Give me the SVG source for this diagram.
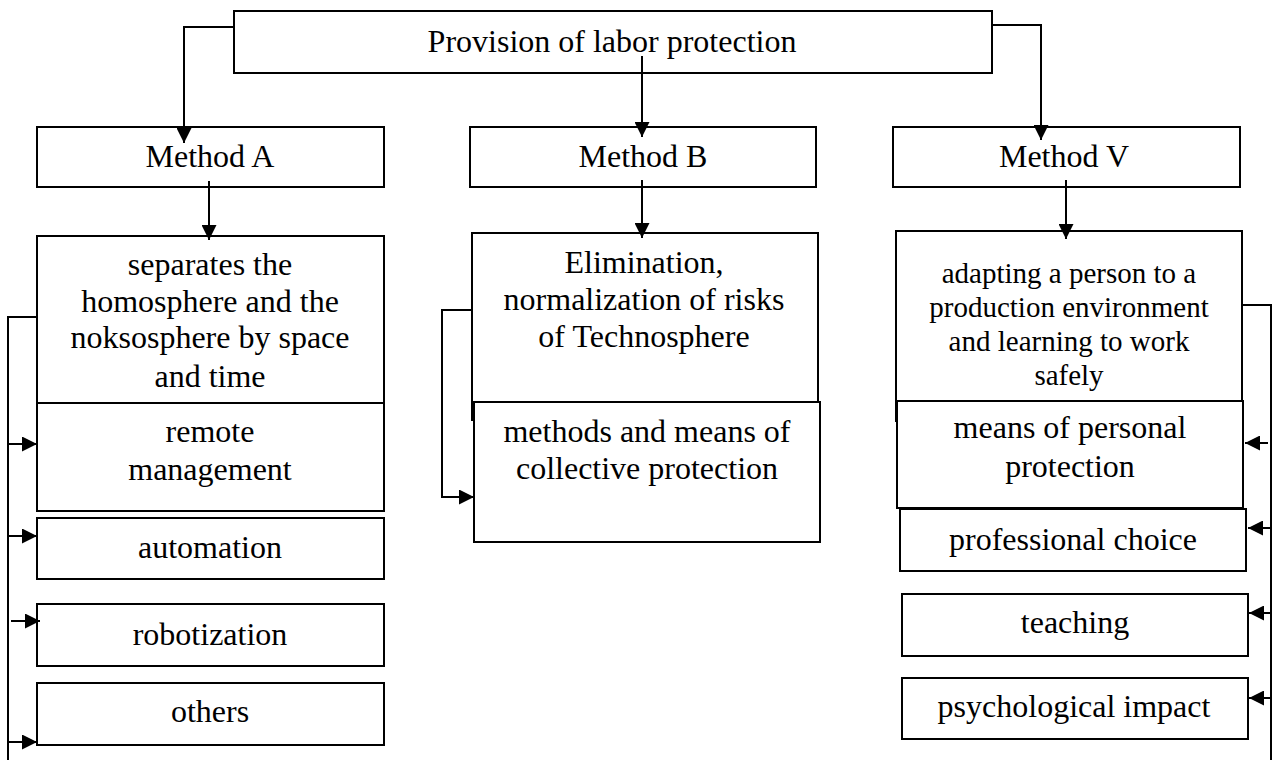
<svg xmlns="http://www.w3.org/2000/svg" width="1274" height="760" viewBox="0 0 1274 760">
<defs>
<style>
.box{fill:#fff;stroke:#000;stroke-width:2}
.t{font-family:"Liberation Serif","Times New Roman",serif;font-size:32px;fill:#000;text-anchor:middle}
.ts{font-size:29px}
.c{fill:none;stroke:#000;stroke-width:2}
</style>
<marker id="ah" markerUnits="userSpaceOnUse" markerWidth="15" markerHeight="15" refX="15" refY="7.5" orient="auto" viewBox="0 0 15 15">
<path d="M0,0 L15,7.5 L0,15 z" fill="#000"/>
</marker>
</defs>
<rect width="1274" height="760" fill="#fff"/>
<g id="root">
<rect class="box" x="234" y="11" width="758" height="62"/>
<text class="t" x="612" y="52">Provision of labor protection</text>
</g>
<g id="methodA">
<rect class="box" x="37" y="127" width="347" height="60"/>
<text class="t" x="210" y="167">Method A</text>
</g>
<g id="methodB">
<rect class="box" x="470" y="127" width="346" height="60"/>
<text class="t" x="643" y="167">Method B</text>
</g>
<g id="methodV">
<rect class="box" x="893" y="127" width="347" height="60"/>
<text class="t" x="1064" y="167">Method V</text>
</g>
<g id="descA">
<rect class="box" x="37" y="236" width="347" height="167"/>
<text class="t" x="210" y="275">separates the</text>
<text class="t" x="210" y="312">homosphere and the</text>
<text class="t" x="210" y="348">noksosphere by space</text>
<text class="t" x="210" y="387">and time</text>
</g>
<g id="remote">
<rect class="box" x="37" y="403" width="347" height="108"/>
<text class="t" x="210" y="442">remote</text>
<text class="t" x="210" y="480">management</text>
</g>
<g id="automation">
<rect class="box" x="37" y="518" width="347" height="61"/>
<text class="t" x="210" y="558">automation</text>
</g>
<g id="robotization">
<rect class="box" x="37" y="604" width="347" height="62"/>
<text class="t" x="210" y="645">robotization</text>
</g>
<g id="others">
<rect class="box" x="37" y="683" width="347" height="62"/>
<text class="t" x="210" y="722">others</text>
</g>
<g id="descB">
<rect class="box" x="472" y="233" width="346" height="187"/>
<text class="t" x="644" y="273">Elimination,</text>
<text class="t" x="644" y="310">normalization of risks</text>
<text class="t" x="644" y="347">of Technosphere</text>
</g>
<g id="collective">
<rect class="box" x="474" y="402" width="346" height="140"/>
<text class="t" x="647" y="442">methods and means of</text>
<text class="t" x="647" y="479">collective protection</text>
</g>
<g id="descV">
<rect class="box" x="896" y="231" width="346" height="190"/>
<text class="t ts" x="1069" y="283">adapting a person to a</text>
<text class="t ts" x="1069" y="317">production environment</text>
<text class="t ts" x="1069" y="351">and learning to work</text>
<text class="t ts" x="1069" y="385">safely</text>
</g>
<g id="personal">
<rect class="box" x="897" y="401" width="346" height="107"/>
<text class="t" x="1070" y="438">means of personal</text>
<text class="t" x="1070" y="477">protection</text>
</g>
<g id="choice">
<rect class="box" x="900" y="509" width="346" height="62"/>
<text class="t" x="1073" y="550">professional choice</text>
</g>
<g id="teaching">
<rect class="box" x="902" y="594" width="346" height="62"/>
<text class="t" x="1075" y="633">teaching</text>
</g>
<g id="psych">
<rect class="box" x="902" y="678" width="346" height="61"/>
<text class="t" x="1074" y="717">psychological impact</text>
</g>
<g id="connectors">
<path class="c" d="M234,27 H184 V143" marker-end="url(#ah)"/>
<path class="c" d="M642,56 V137" marker-end="url(#ah)"/>
<path class="c" d="M992,25 H1041 V140" marker-end="url(#ah)"/>
<path class="c" d="M209,181 V240" marker-end="url(#ah)"/>
<path class="c" d="M642,180 V238" marker-end="url(#ah)"/>
<path class="c" d="M1066,180 V239" marker-end="url(#ah)"/>
<path class="c" d="M37,317 H8 V760"/>
<path class="c" d="M8,444 H37" marker-end="url(#ah)"/>
<path class="c" d="M8,536 H37" marker-end="url(#ah)"/>
<path class="c" d="M11,621 H40" marker-end="url(#ah)"/>
<path class="c" d="M8,742 H37" marker-end="url(#ah)"/>
<path class="c" d="M472,310 H442 V497 H474" marker-end="url(#ah)"/>
<path class="c" d="M1242,305 H1271 V760"/>
<path class="c" d="M1268,443 H1245" marker-end="url(#ah)"/>
<path class="c" d="M1271,528 H1248" marker-end="url(#ah)"/>
<path class="c" d="M1271,613 H1249" marker-end="url(#ah)"/>
<path class="c" d="M1271,698 H1249" marker-end="url(#ah)"/>
</g>
</svg>
